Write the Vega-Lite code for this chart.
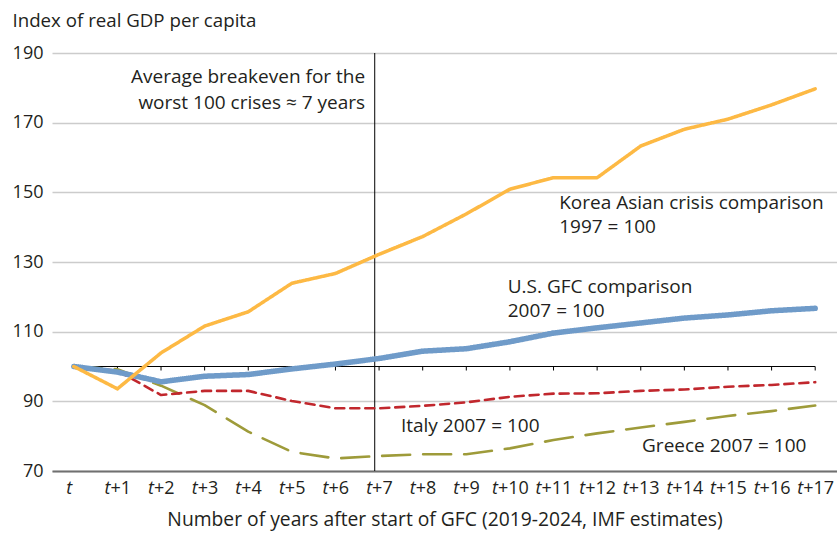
{
  "$schema": "https://vega.github.io/schema/vega-lite/v6.json",
  "width": 785,
  "height": 418,
  "autosize": {"type": "none"},
  "padding": {"left": 52, "top": 53, "right": 0, "bottom": 62},
  "background": "white",
  "config": {
    "font": "Open Sans",
    "view": {"stroke": null},
    "text": {"font": "Open Sans", "fontSize": 19, "color": "#231f20"}
  },
  "datasets": {
    "series": [
      {"t": 0, "country": "Greece", "value": 100},
      {"t": 1, "country": "Greece", "value": 99.2},
      {"t": 2, "country": "Greece", "value": 94.5},
      {"t": 3, "country": "Greece", "value": 88.9},
      {"t": 4, "country": "Greece", "value": 81.3},
      {"t": 5, "country": "Greece", "value": 75.5},
      {"t": 6, "country": "Greece", "value": 73.6},
      {"t": 7, "country": "Greece", "value": 74.3},
      {"t": 8, "country": "Greece", "value": 74.8},
      {"t": 9, "country": "Greece", "value": 74.8},
      {"t": 10, "country": "Greece", "value": 76.5},
      {"t": 11, "country": "Greece", "value": 78.9},
      {"t": 12, "country": "Greece", "value": 80.8},
      {"t": 13, "country": "Greece", "value": 82.5},
      {"t": 14, "country": "Greece", "value": 84.1},
      {"t": 15, "country": "Greece", "value": 85.8},
      {"t": 16, "country": "Greece", "value": 87.2},
      {"t": 17, "country": "Greece", "value": 88.8},
      {"t": 0, "country": "Italy", "value": 100},
      {"t": 1, "country": "Italy", "value": 98.8},
      {"t": 2, "country": "Italy", "value": 91.8},
      {"t": 3, "country": "Italy", "value": 93.0},
      {"t": 4, "country": "Italy", "value": 93.0},
      {"t": 5, "country": "Italy", "value": 90.1},
      {"t": 6, "country": "Italy", "value": 88.0},
      {"t": 7, "country": "Italy", "value": 88.0},
      {"t": 8, "country": "Italy", "value": 88.7},
      {"t": 9, "country": "Italy", "value": 89.7},
      {"t": 10, "country": "Italy", "value": 91.3},
      {"t": 11, "country": "Italy", "value": 92.2},
      {"t": 12, "country": "Italy", "value": 92.3},
      {"t": 13, "country": "Italy", "value": 93.0},
      {"t": 14, "country": "Italy", "value": 93.4},
      {"t": 15, "country": "Italy", "value": 94.2},
      {"t": 16, "country": "Italy", "value": 94.7},
      {"t": 17, "country": "Italy", "value": 95.5},
      {"t": 0, "country": "US", "value": 100},
      {"t": 1, "country": "US", "value": 98.4},
      {"t": 2, "country": "US", "value": 95.6},
      {"t": 3, "country": "US", "value": 97.2},
      {"t": 4, "country": "US", "value": 97.7},
      {"t": 5, "country": "US", "value": 99.3},
      {"t": 6, "country": "US", "value": 100.7},
      {"t": 7, "country": "US", "value": 102.3},
      {"t": 8, "country": "US", "value": 104.4},
      {"t": 9, "country": "US", "value": 105.1},
      {"t": 10, "country": "US", "value": 107.1},
      {"t": 11, "country": "US", "value": 109.6},
      {"t": 12, "country": "US", "value": 111.1},
      {"t": 13, "country": "US", "value": 112.5},
      {"t": 14, "country": "US", "value": 113.9},
      {"t": 15, "country": "US", "value": 114.8},
      {"t": 16, "country": "US", "value": 116.0},
      {"t": 17, "country": "US", "value": 116.7},
      {"t": 0, "country": "Korea", "value": 100},
      {"t": 1, "country": "Korea", "value": 93.6},
      {"t": 2, "country": "Korea", "value": 103.9},
      {"t": 3, "country": "Korea", "value": 111.6},
      {"t": 4, "country": "Korea", "value": 115.7},
      {"t": 5, "country": "Korea", "value": 123.9},
      {"t": 6, "country": "Korea", "value": 126.7},
      {"t": 7, "country": "Korea", "value": 132.2},
      {"t": 8, "country": "Korea", "value": 137.3},
      {"t": 9, "country": "Korea", "value": 143.8},
      {"t": 10, "country": "Korea", "value": 150.9},
      {"t": 11, "country": "Korea", "value": 154.2},
      {"t": 12, "country": "Korea", "value": 154.2},
      {"t": 13, "country": "Korea", "value": 163.3},
      {"t": 14, "country": "Korea", "value": 168.1},
      {"t": 15, "country": "Korea", "value": 171.0},
      {"t": 16, "country": "Korea", "value": 175.1},
      {"t": 17, "country": "Korea", "value": 179.7}
    ],
    "ticks": [
      {"t": 0}, {"t": 1}, {"t": 2}, {"t": 3}, {"t": 4}, {"t": 5}, {"t": 6}, {"t": 7}, {"t": 8},
      {"t": 9}, {"t": 10}, {"t": 11}, {"t": 12}, {"t": 13}, {"t": 14}, {"t": 15}, {"t": 16}, {"t": 17}
    ],
    "labels": [
      {"x": 6.68, "y": 183.2, "text": "Average breakeven for the", "side": "right"},
      {"x": 6.68, "y": 175.7, "text": "worst 100 crises ≈ 7 years", "side": "right"},
      {"x": 11.13, "y": 147.0, "text": "Korea Asian crisis comparison", "side": "left"},
      {"x": 11.13, "y": 140.0, "text": "1997 = 100", "side": "left"},
      {"x": 9.95, "y": 122.9, "text": "U.S. GFC comparison", "side": "left"},
      {"x": 9.95, "y": 116.0, "text": "2007 = 100", "side": "left"},
      {"x": 7.5, "y": 82.9, "text": "Italy 2007 = 100", "side": "left"},
      {"x": 13.03, "y": 77.2, "text": "Greece 2007 = 100", "side": "left"}
    ]
  },
  "layer": [
    {
      "data": {"values": [{"x": 6.9, "y": 70, "y2": 190}]},
      "mark": {"type": "rule", "color": "#000000", "strokeWidth": 1},
      "encoding": {
        "x": {"field": "x", "type": "quantitative", "scale": {"domain": [-0.5, 17.5], "nice": false, "zero": false}, "axis": null},
        "y": {
          "field": "y",
          "type": "quantitative",
          "scale": {"domain": [70, 190], "nice": false, "zero": false},
          "title": "Index of real GDP per capita",
          "axis": {
            "values": [70, 90, 110, 130, 150, 170, 190],
            "grid": true,
            "gridColor": "#cccccc",
            "gridWidth": 1.5,
            "domain": false,
            "ticks": false,
            "labelFont": "Open Sans",
            "labelFontSize": 18,
            "labelColor": "#231f20",
            "labelPadding": 9,
            "title": "Index of real GDP per capita",
            "titleAngle": 0,
            "titleAlign": "left",
            "titleBaseline": "middle",
            "titleX": -40,
            "titleY": -33,
            "titleFont": "Open Sans",
            "titleFontSize": 18.7,
            "titleFontWeight": "normal",
            "titleColor": "#231f20"
          }
        },
        "y2": {"field": "y2"}
      }
    },
    {
      "data": {"values": [{"x": 0, "x2": 17, "y": 100}]},
      "mark": {"type": "rule", "color": "#000000", "strokeWidth": 1.2},
      "encoding": {
        "x": {"field": "x", "type": "quantitative", "scale": {"domain": [-0.5, 17.5], "nice": false, "zero": false}, "axis": null},
        "x2": {"field": "x2"},
        "y": {"field": "y", "type": "quantitative", "scale": {"domain": [70, 190], "nice": false, "zero": false}, "title": "Index of real GDP per capita"}
      }
    },
    {
      "data": {"name": "ticks"},
      "transform": [{"filter": "datum.t > 0"}],
      "mark": {"type": "rule", "color": "#000000", "strokeWidth": 1, "y": {"expr": "scale('y', 100)"}, "y2": {"expr": "scale('y', 100) + 4"}},
      "encoding": {
        "x": {
          "field": "t",
          "type": "quantitative",
          "scale": {"domain": [-0.5, 17.5], "nice": false, "zero": false},
          "axis": {
            "orient": "bottom",
            "values": [0, 1, 2, 3, 4, 5, 6, 7, 8, 9, 10, 11, 12, 13, 14, 15, 16, 17],
            "labelExpr": "datum.value == 0 ? '' : '+' + datum.value",
            "labelAlign": "left",
            "labelOffset": {"condition": {"test": "datum.value >= 10", "value": -12.5}, "value": -7.5},
            "labelFont": "Open Sans",
            "labelFontSize": 18,
            "labelColor": "#231f20",
            "labelPadding": 8,
            "labelOverlap": false,
            "labelFlush": false,
            "domain": false,
            "ticks": false,
            "grid": false,
            "title": null
          }
        }
      }
    },
    {
      "data": {"name": "series"},
      "mark": {"type": "line", "strokeCap": "round", "strokeJoin": "round"},
      "encoding": {
        "x": {
          "field": "t",
          "type": "quantitative",
          "scale": {"domain": [-0.5, 17.5], "nice": false, "zero": false},
          "axis": {
            "orient": "bottom",
            "values": [0, 1, 2, 3, 4, 5, 6, 7, 8, 9, 10, 11, 12, 13, 14, 15, 16, 17],
            "labelExpr": "'t'",
            "labelFontStyle": "italic",
            "labelAlign": "right",
            "labelOffset": {"condition": [{"test": "datum.value == 0", "value": -2}, {"test": "datum.value >= 10", "value": -12.5}], "value": -7.5},
            "labelFont": "Open Sans",
            "labelFontSize": 18,
            "labelColor": "#231f20",
            "labelPadding": 8,
            "labelOverlap": false,
            "labelFlush": false,
            "domain": true,
            "domainColor": "#707070",
            "domainWidth": 2,
            "ticks": false,
            "grid": false,
            "title": "Number of years after start of GFC (2019-2024, IMF estimates)",
            "titleFont": "Open Sans",
            "titleFontSize": 19.3,
            "titleFontWeight": "normal",
            "titleColor": "#231f20",
            "titlePadding": 13
          }
        },
        "y": {"field": "value", "type": "quantitative", "scale": {"domain": [70, 190], "nice": false, "zero": false}, "title": "Index of real GDP per capita"},
        "color": {"field": "country", "type": "nominal", "scale": {"domain": ["Greece", "Italy", "US", "Korea"], "range": ["#9e9b3a", "#c1272d", "#6f9bc9", "#fdb944"]}, "legend": null},
        "strokeDash": {"field": "country", "type": "nominal", "scale": {"type": "ordinal", "domain": ["Greece", "Italy", "US", "Korea"], "range": [[28, 13], [9, 6], [1, 0], [1, 0]]}, "legend": null},
        "strokeWidth": {"field": "country", "type": "nominal", "scale": {"type": "ordinal", "domain": ["Greece", "Italy", "US", "Korea"], "range": [2.6, 2.6, 5.5, 3.5]}, "legend": null},
        "order": {"field": "t", "type": "quantitative"}
      }
    },
    {
      "data": {"name": "labels"},
      "transform": [{"filter": "datum.side == 'right'"}],
      "mark": {"type": "text", "align": "right", "baseline": "middle"},
      "encoding": {
        "x": {"field": "x", "type": "quantitative", "scale": {"domain": [-0.5, 17.5], "nice": false, "zero": false}, "axis": null},
        "y": {"field": "y", "type": "quantitative", "scale": {"domain": [70, 190], "nice": false, "zero": false}, "title": "Index of real GDP per capita"},
        "text": {"field": "text"}
      }
    },
    {
      "data": {"name": "labels"},
      "transform": [{"filter": "datum.side == 'left'"}],
      "mark": {"type": "text", "align": "left", "baseline": "middle"},
      "encoding": {
        "x": {"field": "x", "type": "quantitative", "scale": {"domain": [-0.5, 17.5], "nice": false, "zero": false}, "axis": null},
        "y": {"field": "y", "type": "quantitative", "scale": {"domain": [70, 190], "nice": false, "zero": false}, "title": "Index of real GDP per capita"},
        "text": {"field": "text"}
      }
    }
  ],
  "resolve": {"axis": {"x": "independent"}}
}
